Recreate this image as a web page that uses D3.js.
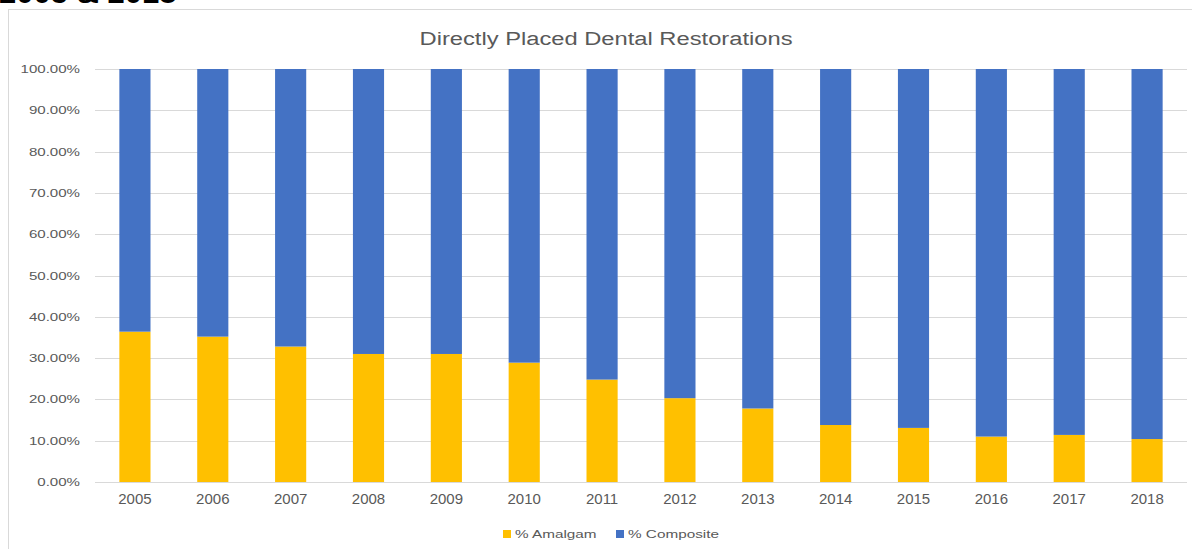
<!DOCTYPE html>
<html>
<head>
<meta charset="utf-8">
<script src="https://cdn.jsdelivr.net/npm/d3@7"></script>
<style>
  html, body { margin: 0; padding: 0; background: #ffffff; overflow: hidden; }
  text { font-family: "Liberation Sans", Arial, sans-serif; }
</style>
</head>
<body>
<svg id="chart" width="1192" height="549"></svg>
<script>
const years = ["2005","2006","2007","2008","2009","2010","2011","2012","2013","2014","2015","2016","2017","2018"];
const amalgam = [36.4, 35.2, 32.8, 31.0, 31.0, 28.9, 24.8, 20.3, 17.8, 13.8, 13.1, 11.0, 11.4, 10.4];
const composite = amalgam.map(v => 100 - v);
const seriesNames = ["% Amalgam", "% Composite"];
const seriesColors = ["#FFC000", "#4472C4"];
const yTicks = [0, 10, 20, 30, 40, 50, 60, 70, 80, 90, 100];
const chartTitle = "Directly Placed Dental Restorations";
const headerText = "2005 & 2018";

const svg = d3.select("#chart");
const textColor = "#595959";

function stretch(sel, factor) {
  sel.each(function() {
    const len = this.getComputedTextLength();
    d3.select(this).attr("textLength", len * factor).attr("lengthAdjust", "spacingAndGlyphs");
  });
}

// header text (cut off at top, as in the reference)
svg.append("text").attr("x", -1).attr("y", 3)
  .attr("font-size", 31).attr("font-weight", "bold").attr("fill", "#000")
  .text(headerText);

// chart frame
svg.append("rect").attr("x", 8.5).attr("y", 9.5).attr("width", 1300).attr("height", 700)
  .attr("fill", "none").attr("stroke", "#d9d9d9").attr("stroke-width", 1);

// title
const title = svg.append("text").attr("x", 606).attr("y", 45).attr("text-anchor", "middle")
  .attr("font-size", 18).attr("fill", textColor).text(chartTitle);
title.attr("textLength", 373).attr("lengthAdjust", "spacingAndGlyphs");

const x = d3.scaleBand().domain(years).range([96, 1186]).paddingInner(0.6).paddingOuter(0.3);
const y = d3.scaleLinear().domain([0, 100]).range([482, 69]);

// gridlines
svg.append("g").selectAll("line").data(yTicks.filter(t => t > 0)).join("line")
  .attr("x1", 95).attr("x2", 1187)
  .attr("y1", d => Math.round(y(d)) + 0.5).attr("y2", d => Math.round(y(d)) + 0.5)
  .attr("stroke", "#d9d9d9").attr("stroke-width", 1);

// y axis labels
const yAxis = svg.append("g").attr("transform", "translate(80,0)")
  .call(d3.axisLeft(y).tickValues(yTicks).tickSize(0).tickPadding(0).tickFormat(d => d.toFixed(2) + "%"));
yAxis.select(".domain").remove();
yAxis.selectAll("text").attr("font-size", 11).attr("fill", textColor)
  .attr("font-family", "'Liberation Sans', Arial, sans-serif");
stretch(yAxis.selectAll("text"), 1.37);

// stacked data
const rows = years.map((yr, i) => ({ year: yr, amalgam: amalgam[i], composite: composite[i] }));
const stack = d3.stack().keys(["amalgam", "composite"]);
const stacked = stack(rows);

svg.append("g").selectAll("g").data(stacked).join("g")
  .attr("fill", (d, i) => seriesColors[i])
  .selectAll("rect").data(d => d).join("rect")
  .attr("x", d => x(d.data.year))
  .attr("width", x.bandwidth())
  .attr("y", d => y(d[1]))
  .attr("height", d => y(d[0]) - y(d[1]));

// x axis
const xAxis = svg.append("g").attr("transform", "translate(0,482)")
  .call(d3.axisBottom(x).tickSize(0).tickPadding(11));
xAxis.select(".domain").attr("stroke", "#d9d9d9").attr("d", "M95,0.5H1187");
xAxis.selectAll("text").attr("font-size", 15).attr("fill", textColor)
  .attr("font-family", "'Liberation Sans', Arial, sans-serif");

// legend
const legendItems = [
  { name: seriesNames[0], color: seriesColors[0], x: 503 },
  { name: seriesNames[1], color: seriesColors[1], x: 616 }
];
const lg = svg.append("g").selectAll("g").data(legendItems).join("g")
  .attr("transform", d => `translate(${d.x},530)`);
lg.append("rect").attr("width", 8).attr("height", 8).attr("fill", d => d.color);
const lt = lg.append("text").attr("x", 12).attr("y", 8).attr("font-size", 11)
  .attr("fill", textColor).text(d => d.name);
stretch(lt, 1.39);
</script>
</body>
</html>
